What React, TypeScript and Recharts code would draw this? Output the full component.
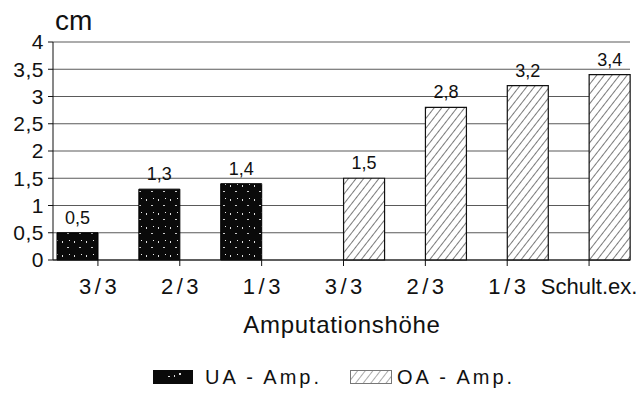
import React from 'react';
import { BarChart, Bar, XAxis, YAxis, CartesianGrid, LabelList } from 'recharts';

const categories = ['3/3', '2/3', '1/3', '3/3', '2/3', '1/3', 'Schult.ex.'];
const uaValues = [0.5, 1.3, 1.4, null, null, null, null];
const oaValues = [null, null, null, 1.5, 2.8, 3.2, 3.4];
const yTicks = [0, 0.5, 1, 1.5, 2, 2.5, 3, 3.5, 4];

const FONT = '"Liberation Sans", Arial, Helvetica, sans-serif';
const de = (v: number) => String(v).replace('.', ',');

const data = categories.map((cat, i) => ({ cat, ua: uaValues[i], oa: oaValues[i] }));

function ValueLabel(props: any) {
  const { x, y, width, value } = props;
  if (value == null) return null;
  return (
    <text x={x + width / 2} y={y - 9} textAnchor="middle" fontSize={18} fontFamily={FONT} fill="#111">
      {de(value)}
    </text>
  );
}

// fractions are spaced out in the original, the long label is not
function CatTick(props: any) {
  const { x, y, payload } = props;
  const long = payload.value.length > 4;
  return (
    <text x={x} y={y} dy={26} textAnchor="middle" fontSize={22} fontFamily={FONT} fill="#111"
      letterSpacing={long ? 0 : 3.5} dx={long ? 0 : 1.7}>
      {payload.value}
    </text>
  );
}

function Swatches() {
  return (
    <defs>
      <pattern id="uaFill" width="12" height="14" patternUnits="userSpaceOnUse">
        <rect width="12" height="14" fill="#0a0a0a" />
        <rect x="2" y="3" width="1" height="2" fill="#ddd" />
        <rect x="7" y="9" width="2" height="1" fill="#ccc" />
        <rect x="9" y="2" width="1" height="1" fill="#eee" />
      </pattern>
      <pattern id="oaFill" width="6" height="6" patternUnits="userSpaceOnUse" patternTransform="rotate(38)">
        <rect width="6" height="6" fill="#fff" />
        <line x1="0" y1="0" x2="0" y2="6" stroke="#222" strokeWidth="1.2" />
      </pattern>
    </defs>
  );
}

const txt: React.CSSProperties = { position: 'absolute', lineHeight: 1, whiteSpace: 'nowrap' };

export default function App() {
  return (
    <div style={{ position: 'absolute', left: 0, top: 0, width: 640, height: 396, background: '#fff', fontFamily: FONT, color: '#111' }}>
      <BarChart
        width={640}
        height={396}
        data={data}
        margin={{ top: 42, right: 10, left: 0, bottom: 96 }}
        barCategoryGap={0}
        barGap={0}
      >
        <Swatches />
        <CartesianGrid vertical={false} stroke="#5a5a5a" strokeWidth={1.2} />
        <XAxis
          dataKey="cat"
          height={40}
          padding={{ left: 4, right: 0 }}
          tickLine={{ stroke: '#111' }}
          tickSize={6}
          tickMargin={2}
          axisLine={{ stroke: '#111' }}
          tick={<CatTick />}
          interval={0}
        />
        <YAxis
          width={53}
          domain={[0, 4]}
          ticks={yTicks}
          interval={0}
          tickFormatter={de}
          tickSize={5}
          tickMargin={4}
          axisLine={{ stroke: '#111' }}
          tickLine={{ stroke: '#111' }}
          tick={{ fill: '#111', fontSize: 21, fontFamily: FONT, letterSpacing: 0.5 }}
        />
        <YAxis yAxisId="r" orientation="right" width={0} tick={false} tickLine={false} axisLine={{ stroke: '#555' }} />
        <Bar dataKey="ua" fill="url(#uaFill)" stroke="#000" isAnimationActive={false}>
          <LabelList dataKey="ua" content={ValueLabel} />
        </Bar>
        <Bar dataKey="oa" fill="url(#oaFill)" stroke="#111" strokeWidth={1.2} isAnimationActive={false}>
          <LabelList dataKey="oa" content={ValueLabel} />
        </Bar>
      </BarChart>

      <div style={{ ...txt, left: 55, top: 7, fontSize: 28 }}>cm</div>
      <div style={{ ...txt, left: 0, width: 684, top: 313, textAlign: 'center', fontSize: 24, letterSpacing: 0.7 }}>
        Amputationshöhe
      </div>

      <svg width={40} height={14} style={{ position: 'absolute', left: 153, top: 370 }}>
        <rect x={0} y={0} width={40} height={14} fill="#0a0a0a" />
        <rect x={15} y={6} width={2} height={1} fill="#ddd" />
        <rect x={21} y={5} width={1} height={2} fill="#ddd" />
        <rect x={26} y={3} width={2} height={2} fill="#ddd" />
      </svg>
      <div style={{ ...txt, left: 205, top: 367, fontSize: 20, letterSpacing: 3 }}>UA - Amp.</div>
      <svg width={42} height={14} style={{ position: 'absolute', left: 350, top: 370 }}>
        <defs>
          <pattern id="oaLeg" width="6" height="6" patternUnits="userSpaceOnUse" patternTransform="rotate(38)">
            <line x1="0" y1="0" x2="0" y2="6" stroke="#555" strokeWidth="1" />
          </pattern>
        </defs>
        <rect x={0.5} y={0.5} width={41} height={13} fill="url(#oaLeg)" stroke="#777" />
      </svg>
      <div style={{ ...txt, left: 397, top: 367, fontSize: 20, letterSpacing: 3 }}>OA - Amp.</div>
    </div>
  );
}
